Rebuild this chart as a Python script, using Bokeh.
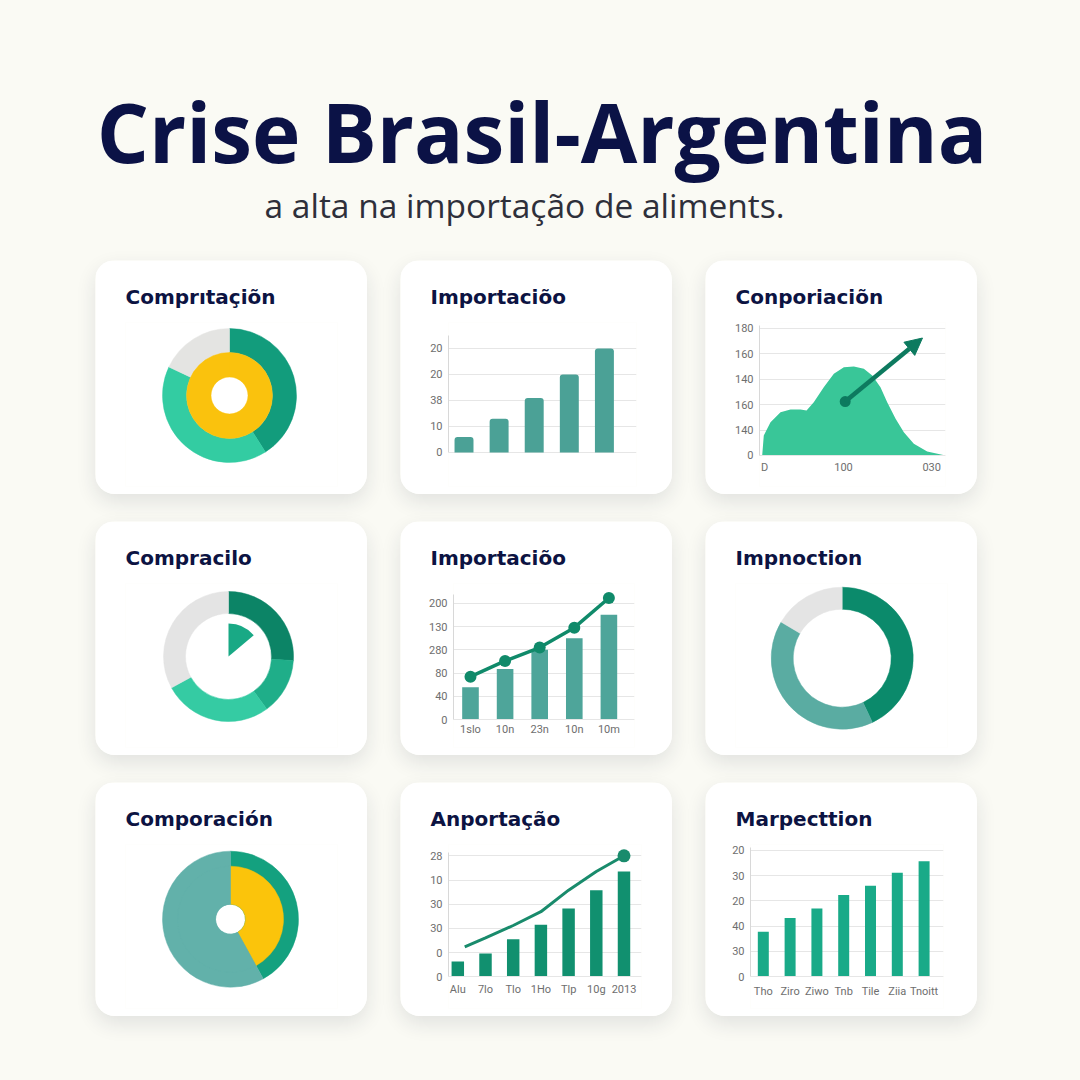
import math
from bokeh.plotting import figure
from bokeh.models import Range1d, FixedTicker, Arrow, NormalHead
from bokeh.layouts import column, row
from bokeh.embed import file_html
from bokeh.resources import INLINE
from bokeh.core.properties import value

# ---------------- data ----------------
TITLE = "Crise Brasil-Argentina"
SUBTITLE = "a alta na importação de aliments."

card_titles = ["Comprıtaçiõn", "Importaciõo", "Conporiaciõn",
               "Compracilo", "Importaciõo", "Impnoction",
               "Comporación", "Anportação", "Marpecttion"]

# card 1 : nested donut
c1_outer_shares = [41, 41, 18]
c1_outer_colors = ["#129c7c", "#33cca2", "#e4e4e2"]
c1_inner_shares = [100]
c1_inner_colors = ["#fac20d"]

# card 2 : bars
c2_values = [6, 13, 21, 30, 40]
c2_yticks = [0, 10, 20, 30, 40]
c2_ylabels = ["0", "10", "38", "20", "20"]

# card 3 : area + arrow
c3_x = [0, 3.2, 5.1, 13.1, 25, 36.9, 48.8, 56, 64.6, 76.5, 88.5, 100.4, 112.3,
        124.2, 134.2, 144, 152, 162, 171.8, 183.7, 199.6, 221.4]
c3_y = [0, 0, 15.7, 26.2, 34.1, 36.2, 36.2, 35.4, 42, 53.8, 64.3, 69.5, 70.1,
        68.3, 63, 53.8, 42, 28.9, 18.3, 9.2, 3.1, 0]
c3_arrow_from = (102, 42.5)
c3_arrow_to = (194, 92.5)
c3_yticks = [0, 20, 40, 60, 80, 100]
c3_ylabels = ["0", "140", "160", "140", "160", "180"]
c3_xticks = [6, 100, 205]
c3_xlabels = ["D", "100", "030"]

# card 4 : donut with pointer
c4_shares = [26, 14, 27, 33]
c4_colors = ["#0c8466", "#1fae89", "#35cba3", "#e4e4e4"]
c4_pointer = (40, 90)  # degrees

# card 5 : bars + line
c5_labels = ["1slo", "10n", "23n", "10n", "10m"]
c5_bars = [56, 87, 120, 140, 180]
c5_line = [74, 101, 124, 158, 209]
c5_yticks = [0, 40, 80, 120, 160, 200]
c5_ylabels = ["0", "40", "80", "280", "130", "200"]

# card 6 : donut
c6_shares = [43, 40.5, 16.5]
c6_colors = ["#0b8a6b", "#5aaca2", "#e4e4e4"]

# card 7 : pie with inner yellow
c7_shares = [42, 58]
c7_colors_outer = ["#14a17f", "#62b1aa"]
c7_colors_inner = ["#fbc40b", "#62b1aa"]

# card 8 : bars + line
c8_labels = ["Alu", "7lo", "Tlo", "1Ho", "Tlp", "10g", "2013"]
c8_bars = [6.3, 9.6, 15.5, 21.5, 28.2, 35.8, 43.5]
c8_line_x = [1.25, 2, 3, 4, 5, 6, 7]
c8_line_y = [12.4, 16.1, 21.2, 26.9, 35.8, 43.5, 50]
c8_yticks = [0, 10, 20, 30, 40, 50]
c8_ylabels = ["0", "0", "30", "30", "10", "28"]

# card 9 : bars
c9_labels = ["Tho", "Ziro", "Ziwo", "Tnb", "Tile", "Ziia", "Tnoitt"]
c9_values = [17.8, 23.2, 27, 32.3, 36, 41.1, 45.6]
c9_yticks = [0, 10, 20, 30, 40, 50]
c9_ylabels = ["0", "30", "40", "20", "30", "20"]

# ---------------- style ----------------
BG = "#fafaf4"
NAVY = "#0c1342"
TICK_C = "#6e6e6e"
GRID_C = "#e6e6e6"
CARD_W, CARD_H = 272, 234
TOP, BOTTOM = 62, 8
CARD_STYLE = {"border-radius": "20px", "overflow": "hidden",
              "box-shadow": "0 8px 20px rgba(30,40,60,0.11)"}


def make_card(title, left, right, xr, yr, axes=False):
    kw = {}
    if not axes:
        kw = dict(x_axis_type=None, y_axis_type=None)
    p = figure(width=CARD_W, height=CARD_H, x_range=Range1d(*xr), y_range=Range1d(*yr),
               toolbar_location=None, output_backend="svg", title=title,
               min_border_left=left, min_border_right=right,
               min_border_top=TOP, min_border_bottom=BOTTOM,
               background_fill_color="white", border_fill_color="white",
               outline_line_color=None, styles=CARD_STYLE, **kw)
    p.title.text_font = "DejaVu Sans"
    p.title.text_font_style = "bold"
    p.title.text_font_size = "20px"
    p.title.text_color = NAVY
    p.title.align = "left"
    p.title.offset = 30 - left
    p.title.standoff = 28
    p.grid.visible = bool(axes)
    return p


def style_y(p, ticks, labels, top):
    ya = p.yaxis[0]
    ya.ticker = FixedTicker(ticks=ticks)
    ya.major_label_overrides = {t: l for t, l in zip(ticks, labels)}
    ya.bounds = (0, top)
    ya.axis_line_color = "#d8d8d8"
    ya.major_tick_line_color = None
    ya.minor_tick_line_color = None
    ya.major_tick_out = 0
    ya.major_tick_in = 0
    ya.minor_tick_out = 0
    ya.major_label_text_font = "Roboto"
    ya.major_label_text_font_size = "11px"
    ya.major_label_text_color = TICK_C
    ya.major_label_standoff = 6
    p.ygrid.ticker = FixedTicker(ticks=ticks)
    p.ygrid.grid_line_color = GRID_C
    p.xgrid.visible = False


def style_x(p, ticks, labels, standoff):
    xa = p.xaxis[0]
    xa.fixed_location = 0
    xa.ticker = FixedTicker(ticks=ticks)
    xa.major_label_overrides = {t: l for t, l in zip(ticks, labels)}
    xa.axis_line_color = GRID_C
    xa.major_tick_line_color = None
    xa.minor_tick_line_color = None
    xa.major_tick_out = 0
    xa.major_tick_in = 0
    xa.minor_tick_out = 0
    xa.major_label_text_font = "Roboto"
    xa.major_label_text_font_size = "11px"
    xa.major_label_text_color = TICK_C
    xa.major_label_standoff = standoff


def ring(p, shares, colors, r_in, r_out):
    tot = sum(shares)
    cum = 0
    starts, ends = [], []
    for s in shares:
        starts.append(math.pi / 2 - 2 * math.pi * cum / tot)
        cum += s
        ends.append(math.pi / 2 - 2 * math.pi * cum / tot)
    p.annular_wedge(x=[0] * len(shares), y=[0] * len(shares), inner_radius=r_in,
                    outer_radius=r_out, start_angle=starts, end_angle=ends,
                    direction="clock", fill_color=colors, line_color=colors, line_width=0.5)


cards = []

# card 1
p = make_card(card_titles[0], 30, 30, (-104, 108), (-91, 73))
ring(p, c1_outer_shares, c1_outer_colors, 43, 67)
ring(p, c1_inner_shares, c1_inner_colors, 18.5, 43)
cards.append(p)

# card 2
p = make_card(card_titles[1], 48, 36, (0.558, 5.914), (-13.08, 50), axes=True)
p.xaxis.visible = False
style_y(p, c2_yticks, c2_ylabels, 45)
p.vbar(x=list(range(1, len(c2_values) + 1)), top=c2_values, width=0.54,
       fill_color="#4ba196", line_color=None, border_radius=(3, 3, 0, 0))
cards.append(p)

# card 3
p = make_card(card_titles[2], 54, 32, (0, 221.4), (-24.41, 104.72), axes=True)
style_y(p, c3_yticks, c3_ylabels, 102.4)
style_x(p, c3_xticks, c3_xlabels, 6)
p.varea(x=c3_x, y1=[0] * len(c3_x), y2=c3_y, fill_color="#39c698")
p.add_layout(Arrow(end=NormalHead(size=17, fill_color="#0d7a5f", line_color="#0d7a5f"),
                   x_start=c3_arrow_from[0], y_start=c3_arrow_from[1],
                   x_end=c3_arrow_to[0], y_end=c3_arrow_to[1],
                   line_color="#0d7a5f", line_width=4.5))
p.scatter(x=[c3_arrow_from[0]], y=[c3_arrow_from[1]], size=11, fill_color="#0d7a5f",
          line_color=None)
cards.append(p)

# card 4
p = make_card(card_titles[3], 30, 30, (-103, 109), (-91, 73))
ring(p, c4_shares, c4_colors, 43, 65)
p.wedge(x=[0], y=[0], radius=33, start_angle=math.radians(c4_pointer[0]),
        end_angle=math.radians(c4_pointer[1]), fill_color="#19a985", line_color=None)
cards.append(p)

# card 5
p = make_card(card_titles[4], 53, 38, (0.509, 5.74), (-47.5, 233.8), axes=True)
style_y(p, c5_yticks, c5_ylabels, 214.4)
xs5 = list(range(1, len(c5_bars) + 1))
style_x(p, xs5, c5_labels, 3)
p.vbar(x=xs5, top=c5_bars, width=0.48, fill_color="#4ea59a", line_color=None)
p.line(x=xs5, y=c5_line, line_color="#108a6a", line_width=3.5)
p.scatter(x=xs5, y=c5_line, size=12, fill_color="#108a6a", line_color=None)
cards.append(p)

# card 6
p = make_card(card_titles[5], 30, 30, (-106.7, 105.3), (-89.3, 74.7))
ring(p, c6_shares, c6_colors, 49, 71)
cards.append(p)

# card 7
p = make_card(card_titles[6], 30, 30, (-105, 107), (-89.3, 74.7))
ring(p, c7_shares, c7_colors_outer, 15, 68)
ring(p, c7_shares, c7_colors_inner, 15, 53)
cards.append(p)

# card 8
p = make_card(card_titles[7], 48, 31, (0.664, 7.632), (-13.1, 54.67), axes=True)
style_y(p, c8_yticks, c8_ylabels, 51.2)
xs8 = list(range(1, len(c8_bars) + 1))
style_x(p, xs8, c8_labels, 6)
p.vbar(x=xs8, top=c8_bars, width=0.45, fill_color="#11906f", line_color=None)
p.line(x=c8_line_x, y=c8_line_y, line_color="#198b6c", line_width=3)
p.scatter(x=[c8_line_x[-1]], y=[c8_line_y[-1]], size=13, fill_color="#198b6c",
          line_color=None)
cards.append(p)

# card 9
p = make_card(card_titles[8], 45, 34, (0.522, 7.724), (-12.52, 52.25), axes=True)
style_y(p, c9_yticks, c9_ylabels, 50.9)
xs9 = list(range(1, len(c9_values) + 1))
style_x(p, xs9, c9_labels, 8)
p.vbar(x=xs9, top=c9_values, width=0.41, fill_color="#19aa88", line_color=None)
cards.append(p)

# header
header = figure(width=1080, height=260, x_range=Range1d(0, 1080), y_range=Range1d(260, 0),
                x_axis_type=None, y_axis_type=None, toolbar_location=None,
                output_backend="svg", min_border=0, outline_line_color=None,
                background_fill_color=BG, border_fill_color=BG)
header.grid.visible = False
header.text(x=[541.5], y=[130], text=[TITLE], text_align="center",
            text_baseline="alphabetic", text_font=value("Open Sans"),
            text_font_style="bold", text_font_size="82px", text_color="#0b1246")
header.text(x=[524], y=[204], text=[SUBTITLE], text_align="center",
            text_baseline="alphabetic", text_font=value("Open Sans"),
            text_font_size="33.5px", text_color="#2e2f3a")

rows = [row(*cards[i * 3:(i + 1) * 3], spacing=33) for i in range(3)]
grid = column(*rows, spacing=27, margin=(0, 0, 0, 95),
              styles={"background-color": BG})

html = file_html([header, grid], INLINE, title="Crise Brasil-Argentina")
html = html.replace("<body>", '<body style="margin:0;background-color:%s;">' % BG)
open("out.html", "w").write(html)
